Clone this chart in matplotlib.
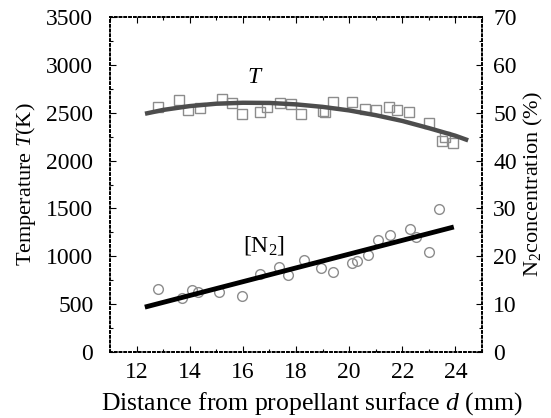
import matplotlib
matplotlib.use("Agg")
import matplotlib.pyplot as plt
from matplotlib.ticker import MultipleLocator

plt.rcParams['font.family'] = ['Liberation Serif', 'DejaVu Serif']
plt.rcParams['mathtext.fontset'] = 'custom'
plt.rcParams['mathtext.rm'] = 'Liberation Serif'
plt.rcParams['mathtext.it'] = 'Liberation Serif:italic'

# temperature measurements (squares)
d_T = [12.8, 13.6, 13.95, 14.4, 15.2, 15.6, 15.95, 16.65, 16.9, 17.4, 17.8,
       18.2, 19.0, 19.1, 19.4, 20.1, 20.6, 21.0, 21.5, 21.8, 22.25, 23.0,
       23.5, 23.6, 23.9]
T_meas = [2560, 2630, 2530, 2550, 2640, 2600, 2490, 2510, 2560, 2600, 2590,
          2490, 2520, 2510, 2610, 2610, 2540, 2530, 2560, 2530, 2510, 2390,
          2210, 2250, 2180]

# temperature fit curve
d_Tfit = [12.4, 13, 14, 15, 16, 17, 18, 19, 20, 21, 22, 23, 24, 24.4]
T_fit = [2495, 2530, 2570, 2595, 2605, 2603, 2588, 2562, 2525, 2475, 2415,
         2340, 2260, 2220]

# N2 concentration measurements (circles)
d_N = [12.8, 13.7, 14.1, 14.3, 15.1, 15.95, 16.65, 17.35, 17.7, 18.3, 18.95,
       19.4, 20.1, 20.3, 20.7, 21.1, 21.55, 22.3, 22.5, 23.0, 23.4]
N_meas = [13.1, 11.2, 12.9, 12.6, 12.6, 11.8, 16.4, 17.8, 16.1, 19.2, 17.5,
          16.8, 18.5, 19.0, 20.3, 23.4, 24.4, 25.8, 24.1, 20.9, 29.8]

# N2 linear fit
d_Nfit = [12.4, 23.85]
N_fit = [9.5, 26.0]

fig = plt.figure(figsize=(5.51, 4.18), dpi=100)
ax = fig.add_axes([0.1996, 0.158, 0.6752, 0.801])
ax2 = ax.twinx()

ax.plot(d_Tfit, T_fit, color='0.3', lw=3.2, zorder=3)
ax.plot(d_T, T_meas, ls='none', marker='s', ms=7, mfc='none', mec='0.55',
        mew=1.0, zorder=2)
ax2.plot(d_Nfit, N_fit, color='black', lw=3.5, zorder=3)
ax2.plot(d_N, N_meas, ls='none', marker='o', ms=7, mfc='none', mec='0.55',
         mew=1.0, zorder=2)

ax.set_xlim(11, 25)
ax.set_ylim(0, 3500)
ax2.set_ylim(0, 70)
ax.xaxis.set_major_locator(MultipleLocator(2))
ax.xaxis.set_minor_locator(MultipleLocator(1))
ax.yaxis.set_major_locator(MultipleLocator(500))
ax.yaxis.set_minor_locator(MultipleLocator(250))
ax2.yaxis.set_major_locator(MultipleLocator(10))
ax2.yaxis.set_minor_locator(MultipleLocator(5))

ax.tick_params(which='both', direction='in', top=True, labelsize=17)
ax.tick_params(axis='y', pad=12)
ax.tick_params(axis='x', pad=7)
ax.tick_params(which='major', length=4, width=0.8)
ax.tick_params(which='minor', length=2.5, width=0.8)
ax2.tick_params(which='both', direction='in', labelsize=17, pad=8)
ax2.tick_params(which='major', length=4, width=0.8)
ax2.tick_params(which='minor', length=2.5, width=0.8)

for a in (ax, ax2):
    for s in a.spines.values():
        s.set_linestyle(':')
        s.set_linewidth(1.3)

ax.set_xlabel('Distance from propellant surface $\\it{d}$ (mm)', fontsize=18.5)
ax.xaxis.set_label_coords(0.543, -0.113)
ax.set_ylabel('Temperature $\\it{T}$(K)', fontsize=16, labelpad=6)
ax2.set_ylabel('N$_2$concentration (%)', fontsize=16, labelpad=4)

ax.text(16.45, 2870, '$\\it{T}$', fontsize=17, ha='center', va='center')
ax2.text(16.8, 22.3, '[N$_2$]', fontsize=17, ha='center', va='center')

fig.savefig('out.png', dpi=100)
